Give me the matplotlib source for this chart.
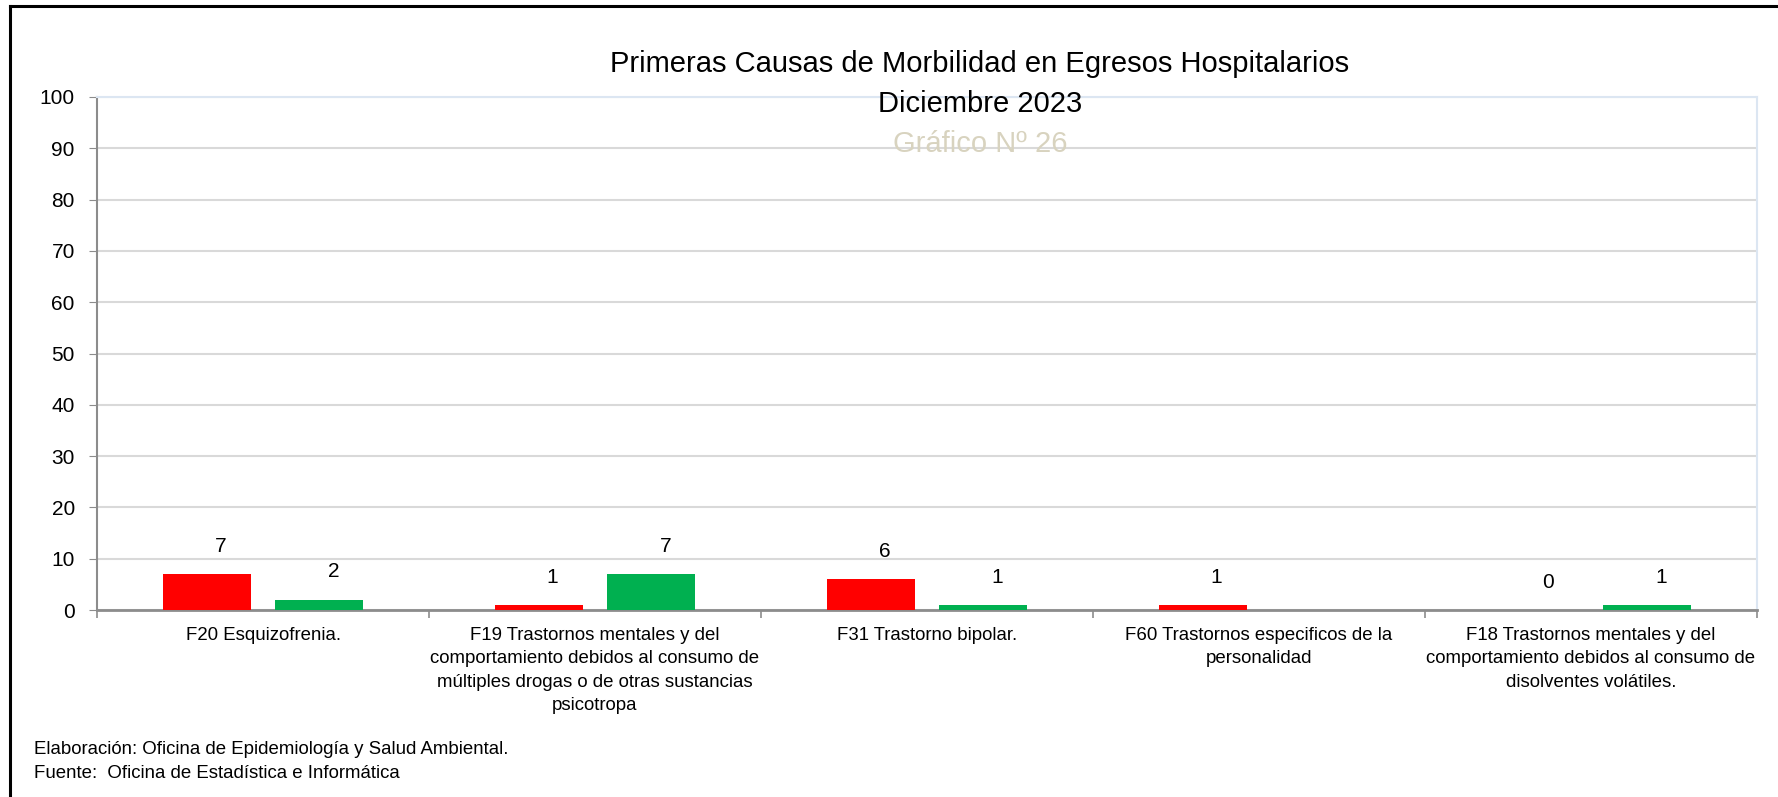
import numpy as np
import matplotlib.pyplot as plt
from matplotlib.lines import Line2D

plt.rcParams['font.family'] = ['Liberation Sans', 'DejaVu Sans']

# Datos del gráfico
categorias = [
    "F20 Esquizofrenia.",
    "F19 Trastornos mentales y del\ncomportamiento debidos al consumo de\nmúltiples drogas o de otras sustancias\npsicotropa",
    "F31 Trastorno bipolar.",
    "F60 Trastornos especificos de la\npersonalidad",
    "F18 Trastornos mentales y del\ncomportamiento debidos al consumo de\ndisolventes volátiles.",
]
serie_roja = [7, 1, 6, 1, 0]
serie_verde = [2, 7, 1, None, 1]
y_ticks = list(range(0, 101, 10))

W, H = 1778, 797
fig = plt.figure(figsize=(W / 100, H / 100), dpi=100)
ax = fig.add_axes([97 / W, 1 - 610 / H, 1660 / W, 513 / H])

x = np.arange(len(categorias))
ancho = 0.265
verde = [np.nan if v is None else v for v in serie_verde]
b1 = ax.bar(x - 0.17, serie_roja, ancho, color='#ff0000', zorder=3)
b2 = ax.bar(x + 0.17, verde, ancho, color='#00b050', zorder=3)

# etiquetas de valores
for barras, vals in ((b1, serie_roja), (b2, serie_verde)):
    for rect, v in zip(barras, vals):
        if v is None:
            continue
        ax.annotate(str(v), (rect.get_x() + rect.get_width() / 2, v),
                    xytext=(10, 20), textcoords='offset points',
                    ha='center', va='center', fontsize=15)

ax.set_xlim(-0.5, len(categorias) - 0.5)
ax.set_ylim(0, 100)
ax.set_yticks(y_ticks)
ax.tick_params(axis='y', labelsize=15, length=6, color='#8c8c8c', pad=10)
ax.yaxis.grid(True, color='#d9d9d9', lw=1.5, zorder=0)
ax.set_axisbelow(True)

ax.set_xticks(np.arange(-0.5, len(categorias)), labels=[''] * (len(categorias) + 1))
ax.tick_params(axis='x', which='major', length=6, color='#8c8c8c', width=1.2)
ax.set_xticks(x, labels=categorias, minor=True)
ax.tick_params(axis='x', which='minor', length=0, pad=12, labelsize=13.4)
for lbl in ax.get_xticklabels(minor=True):
    lbl.set_linespacing(1.5)

for s in ('left', 'bottom'):
    ax.spines[s].set_color('#8c8c8c')
ax.spines['left'].set_linewidth(1.5)
ax.spines['bottom'].set_linewidth(2)
for s in ('top', 'right'):
    ax.spines[s].set_color('#dce6f2')
    ax.spines[s].set_linewidth(1.5)

# títulos
cx = 980 / W
fig.text(cx, 1 - 64 / H, 'Primeras Causas de Morbilidad en Egresos Hospitalarios',
         ha='center', va='center', fontsize=21)
fig.text(cx, 1 - 104 / H, 'Diciembre 2023', ha='center', va='center', fontsize=21)
fig.text(cx, 1 - 144 / H, 'Gráfico Nº 26', ha='center', va='center', fontsize=21,
         color='#d8d3bf')

# notas
fig.text(34 / W, 1 - 750 / H, 'Elaboración: Oficina de Epidemiología y Salud Ambiental.',
         va='center', fontsize=13.4)
fig.text(34 / W, 1 - 774 / H, 'Fuente:  Oficina de Estadística e Informática',
         va='center', fontsize=13.4)

# marco
fig.add_artist(Line2D([10 / W, 10 / W], [0, 1 - 6 / H], color='black', lw=2.2))
fig.add_artist(Line2D([10 / W, 1], [1 - 6 / H, 1 - 6 / H], color='black', lw=2.2))

fig.savefig('out.png', dpi=100)
